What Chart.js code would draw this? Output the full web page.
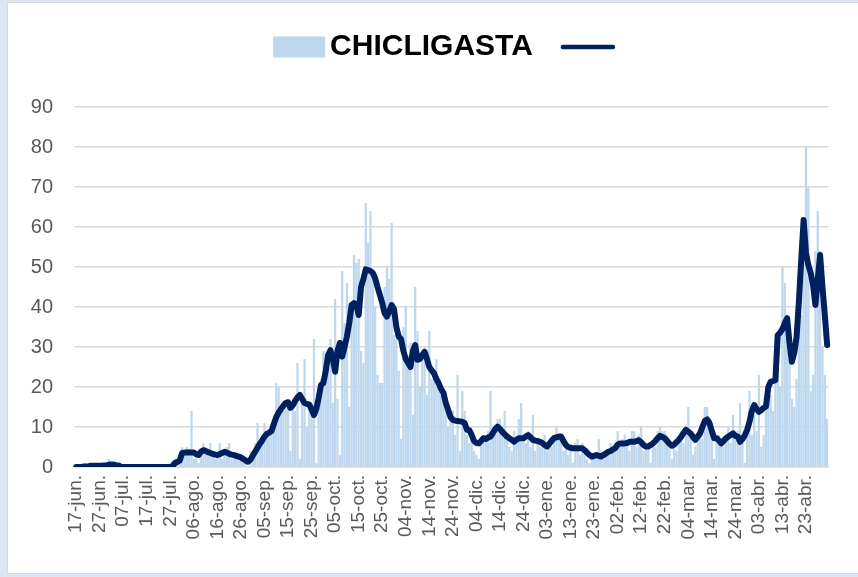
<!DOCTYPE html>
<html>
<head>
<meta charset="utf-8">
<script src="https://cdn.jsdelivr.net/npm/chart.js@4/dist/chart.umd.min.js"></script>
<style>
  html, body { margin: 0; padding: 0; }
  body { width: 858px; height: 577px; background: #dde7f3; position: relative; overflow: hidden; }
  #panel { position: absolute; left: 7px; top: 2px; width: 851px; height: 572px; background: #ffffff;
           border-top: 1px solid #d9d9d9; border-left: 1px solid #d9d9d9; border-bottom: 1px solid #d9d9d9; box-sizing: border-box; }
  #chart { position: absolute; left: 0; top: 0; }
</style>
</head>
<body>
<div id="panel"></div>
<canvas id="chart" width="858" height="577"></canvas>
<script>
// First day of the daily series (17 June 2020)
const startDate = [2020, 5, 17];
const monthNames = ['ene', 'feb', 'mar', 'abr', 'may', 'jun', 'jul', 'ago', 'sep', 'oct', 'nov', 'dic'];

// Axis labels shown every ten days
const tickLabels = [
  '17-jun.', '27-jun.', '07-jul.', '17-jul.', '27-jul.', '06-ago.', '16-ago.', '26-ago.',
  '05-sep.', '15-sep.', '25-sep.', '05-oct.', '15-oct.', '25-oct.', '04-nov.', '14-nov.',
  '24-nov.', '04-dic.', '14-dic.', '24-dic.', '03-ene.', '13-ene.', '23-ene.', '02-feb.',
  '12-feb.', '22-feb.', '04-mar.', '14-mar.', '24-mar.', '03-abr.', '13-abr.', '23-abr.'
];

// Daily cases
const dailyCases = [
  0,0,0,0,1,0,0,1,0,0,
  0,1,0,0,2,1,0,0,0,0,
  0,0,0,0,0,0,0,0,0,0,
  0,0,0,0,0,0,0,0,0,0,
  0,1,2,1,3,5,4,5,3,14,
  2,3,1,4,6,5,4,6,3,2,
  3,6,2,4,5,6,2,3,2,3,
  2,1,1,0,4,3,6,11,5,7,
  11,8,9,10,12,21,20,15,14,16,
  17,4,15,14,26,2,18,27,10,16,
  14,32,1,19,22,29,24,26,32,16,
  42,17,3,49,36,46,15,40,53,51,
  52,29,26,66,56,64,49,40,23,21,
  21,45,50,47,61,33,32,24,7,35,
  40,28,31,13,45,34,20,28,30,18,
  34,22,24,27,22,18,16,19,10,12,
  14,8,23,4,19,14,8,6,7,4,
  3,2,7,6,8,9,19,8,10,12,
  12,8,14,7,5,4,9,7,12,16,
  8,6,9,5,13,4,6,5,7,8,
  4,6,5,8,10,8,7,4,5,3,
  5,1,6,7,3,6,4,2,1,3,
  2,3,7,4,2,4,3,6,5,6,
  9,5,7,8,6,4,9,9,5,8,
  10,4,6,5,1,6,5,9,10,9,
  9,7,5,2,6,4,7,8,6,10,
  15,9,3,5,8,10,7,15,15,12,
  11,2,6,8,7,5,8,10,6,13,
  7,9,16,6,1,9,19,8,13,9,
  23,5,8,16,21,18,14,33,28,20,
  50,46,38,27,17,15,22,39,38,56,
  80,70,19,23,54,64,54,30,23,12
];

// Smoothed trend
const trend = [
  0,0,0,0.1,0.1,0.1,0.3,0.3,0.3,0.3,
  0.3,0.3,0.4,0.4,0.6,0.6,0.6,0.4,0.4,0.1,
  0,0,0,0,0,0,0,0,0,0,
  0,0,0,0,0,0,0,0,0,0,
  0,0.3,1.0,1.3,1.6,3.5,3.6,3.6,3.7,3.6,
  3.6,3.2,3.0,3.8,4.2,4.0,3.7,3.5,3.3,3.1,
  3.0,3.2,3.5,3.8,3.6,3.3,3.1,3.0,2.8,2.6,
  2.4,2.0,1.6,1.3,1.8,2.8,3.8,4.8,5.8,6.6,
  7.6,8.3,8.6,9.0,10.8,12.5,13.6,14.5,15.3,16.0,
  16.2,14.8,15.4,16.5,17.4,18.0,17.0,16.0,15.8,15.6,
  14.4,13.0,14.5,17.3,20.5,21.0,24.0,28.0,29.2,27.0,
  23.8,29.0,31.0,27.6,30.0,32.6,36.0,40.5,41.0,40.6,
  38.0,45.0,47.0,49.4,49.2,49.0,48.5,47.2,45.0,43.0,
  41.0,38.5,37.6,39.0,40.5,39.5,35.0,32.6,32.0,29.0,
  27.0,26.0,25.0,29.0,30.5,26.8,27.0,28.0,28.8,27.0,
  25.0,24.2,23.4,22.0,20.9,19.5,18.5,16.0,14.3,12.5,
  11.8,11.6,11.5,11.4,11.3,11.0,9.3,9.2,8.0,6.5,
  6.0,5.9,6.5,7.2,7.0,7.4,7.6,8.5,9.5,10.1,
  9.5,8.8,8.2,7.6,7.2,6.8,6.3,6.8,7.2,7.2,
  7.2,7.6,8.0,7.4,6.8,6.6,6.5,6.3,6.0,5.5,
  5.1,5.8,6.6,7.2,7.4,7.6,7.6,6.5,5.5,5.0,
  4.8,4.7,4.7,4.7,4.7,4.7,4.2,3.6,3.0,2.6,
  2.8,3.0,2.8,2.6,3.0,3.4,3.8,4.0,4.4,4.7,
  5.6,5.9,5.9,5.9,6.0,6.3,6.3,6.3,6.5,6.7,
  6.2,5.5,5.1,5.1,5.5,5.9,6.5,7.2,7.8,7.5,
  7.2,6.5,5.8,5.3,5.6,6.2,6.8,7.6,8.5,9.3,
  8.8,8.4,7.5,6.8,7.6,8.4,10.0,11.5,11.9,11.0,
  9.0,7.2,7.2,6.6,5.9,6.5,7.2,7.6,8.0,8.4,
  7.8,7.6,6.3,7.0,7.9,9.3,11.3,14.0,15.5,14.5,
  13.8,14.2,14.8,15.1,20.0,21.3,21.5,21.7,33.0,33.6,
  34.5,36.0,37.2,31.0,26.3,28.5,32.5,41.5,52.0,61.75,
  53.5,50.5,48.5,45.5,40.5,47.0,53.0,45.0,38.0,30.5
];

// One category per day
const categories = [];
for (let k = 0; k < dailyCases.length; k++) {
  const d = new Date(startDate[0], startDate[1], startDate[2] + k);
  categories.push(String(d.getDate()).padStart(2, '0') + '-' + monthNames[d.getMonth()] + '.');
}

const BAR_COLOR = '#bdd7ee';
const LINE_COLOR = '#002060';
const TEXT_GRAY = '#595959';
const GRID_GRAY = '#d9d9d9';

// Draws the legend swatches on both sides of the title text
const titleSwatches = {
  id: 'titleSwatches',
  afterDraw(chart) {
    const t = chart.titleBlock;
    if (!t) return;
    const ctx = chart.ctx;
    const font = Chart.helpers.toFont(chart.options.plugins.title.font);
    ctx.save();
    ctx.font = font.string;
    const w = ctx.measureText(chart.options.plugins.title.text).width;
    const cx = (t.left + t.right) / 2;
    const cy = t.top + chart.options.plugins.title.padding.top + font.lineHeight / 2;
    ctx.fillStyle = BAR_COLOR;
    ctx.fillRect(cx - w / 2 - 57, cy - 10.5, 52, 21);
    ctx.strokeStyle = LINE_COLOR;
    ctx.lineWidth = 4.5;
    ctx.lineCap = 'round';
    ctx.beginPath();
    ctx.moveTo(cx + w / 2 + 30, cy);
    ctx.lineTo(cx + w / 2 + 80, cy);
    ctx.stroke();
    ctx.restore();
  }
};

new Chart(document.getElementById('chart'), {
  data: {
    labels: categories,
    datasets: [
      {
        type: 'line',
        label: '',
        data: trend,
        borderColor: LINE_COLOR,
        borderWidth: 6,
        pointRadius: 0,
        tension: 0,
        borderJoinStyle: 'round',
        borderCapStyle: 'round',
        order: 0
      },
      {
        type: 'bar',
        label: 'CHICLIGASTA',
        data: dailyCases,
        backgroundColor: BAR_COLOR,
        borderWidth: 0,
        barPercentage: 0.95,
        categoryPercentage: 1.0,
        order: 1
      }
    ]
  },
  options: {
    responsive: false,
    devicePixelRatio: 1,
    animation: false,
    layout: { padding: { left: 20, right: 15, top: 0, bottom: 0 } },
    plugins: {
      legend: { display: false },
      tooltip: { enabled: false },
      title: {
        display: true,
        text: 'CHICLIGASTA',
        color: '#000000',
        font: { family: '"Liberation Sans", Arial, sans-serif', size: 30, weight: 'bold', lineHeight: 1.2 },
        padding: { top: 29, bottom: 42 }
      }
    },
    scales: {
      x: {
        type: 'category',
        offset: true,
        grid: { display: false, drawTicks: false },
        border: { display: true, color: GRID_GRAY, width: 1.5 },
        ticks: {
          autoSkip: false,
          minRotation: 90,
          maxRotation: 90,
          padding: 8,
          color: TEXT_GRAY,
          font: { family: '"Liberation Sans", Arial, sans-serif', size: 19 },
          callback: (value, index) => (index % 10 === 0 ? tickLabels[index / 10] : '')
        },
        afterFit: (scale) => { scale.height = 110; }
      },
      y: {
        min: 0,
        max: 90,
        grid: { color: GRID_GRAY, lineWidth: 1.5, drawTicks: false },
        border: { display: false },
        ticks: {
          stepSize: 10,
          padding: 22,
          color: TEXT_GRAY,
          font: { family: '"Liberation Sans", Arial, sans-serif', size: 20 }
        },
        afterFit: (scale) => { scale.width = 55; }
      }
    }
  },
  plugins: [titleSwatches]
});
</script>
</body>
</html>
